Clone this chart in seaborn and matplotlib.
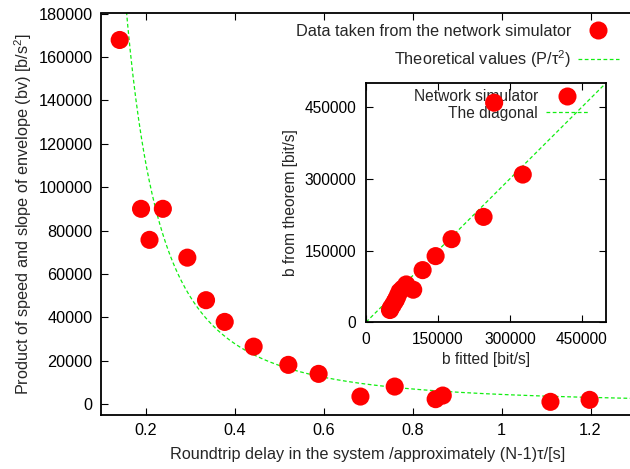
import numpy as np
import pandas as pd
import matplotlib
matplotlib.use("Agg")
import matplotlib.pyplot as plt
from matplotlib.lines import Line2D
import seaborn as sns

# ---- data ----
delay = [0.142, 0.190, 0.239, 0.209, 0.294, 0.336, 0.378, 0.443, 0.521,
         0.589, 0.683, 0.760, 0.852, 0.868, 1.110, 1.198]
bv = [167800, 90000, 90000, 75700, 67500, 47900, 37900, 26500, 18100,
      13950, 3500, 8100, 2300, 3960, 1060, 1980]

P_const = 4470  # theoretical constant P in P/tau^2
tau_range = [0.1, 1.3]

b_fitted = [267300, 327000, 245200, 178500, 145200, 118100, 98500, 84000,
            76000, 70000, 66000, 63000, 60000, 56000, 52000, 50000]
b_theorem = [459400, 309000, 220400, 173800, 138300, 109000, 68000, 79000,
             70000, 64000, 55000, 48000, 43000, 36000, 30000, 25500]
diag = [0, 500000]

x_ticks = [0.2, 0.4, 0.6, 0.8, 1.0, 1.2]
x_ticklabels = ["0.2", "0.4", "0.6", "0.8", "1", "1.2"]
y_ticks = list(range(0, 180001, 20000))
in_ticks = [0, 150000, 300000, 450000]

sns.set_style("ticks")
plt.rcParams["font.family"] = ["Liberation Sans", "DejaVu Sans"]
plt.rcParams["mathtext.fontset"] = "custom"
plt.rcParams["mathtext.rm"] = "Liberation Sans"
plt.rcParams["mathtext.it"] = "Liberation Sans"

RED = "#ff0000"
GREEN = "#11ee11"
FS = 11.7

W, H = 630, 469
fig = plt.figure(figsize=(W / 100, H / 100), dpi=100)

# main axes
L, R, T, B = 101, 101 + 1.2 * 445, 13.5, 415
ax = fig.add_axes([L / W, 1 - B / H, (R - L) / W, (B - T) / H])

tau = np.linspace(tau_range[0], tau_range[1], 400)
theo = pd.DataFrame({"tau": tau, "val": P_const / tau ** 2})
sns.lineplot(data=theo, x="tau", y="val", ax=ax, color=GREEN, lw=0.9,
             dashes=False, linestyle=(0, (3, 2)), zorder=2)
pts = pd.DataFrame({"delay": delay, "bv": bv})
sns.scatterplot(data=pts, x="delay", y="bv", ax=ax, color=RED, s=170,
                edgecolor="none", linewidth=0, zorder=3)
ax.set_xlim(0.1, 1.3)
ax.set_ylim(-5000, 180000)
ax.set_xticks(x_ticks)
ax.set_xticklabels(x_ticklabels)
ax.set_yticks(y_ticks)
ax.set_yticklabels([str(v) for v in y_ticks])
ax.tick_params(direction="in", top=True, right=False, length=5, width=0.8,
               labelsize=FS, pad=6, colors="black")
for s in ax.spines.values():
    s.set_linewidth(1.3)
    s.set_color("black")
ax.set_xlabel("Roundtrip delay in the system /approximately (N-1)\u03c4/[s]",
              fontsize=FS, labelpad=6)
ax.set_ylabel("Product of speed and slope of envelope (bv) [b/s$^2$]",
              fontsize=FS, labelpad=3)

h1 = Line2D([], [], color=RED, marker="o", linestyle="none", markersize=13,
            markeredgewidth=0)
h2 = Line2D([], [], color=GREEN, lw=0.9, linestyle=(0, (3, 2)))
leg = ax.legend([h1, h2], ["Data taken from the network simulator",
                           "Theoretical values (P/\u03c4$^2$)"],
                loc="upper right", bbox_to_anchor=(619 / W, 1 - 24 / H),
                bbox_transform=fig.transFigure, frameon=False,
                markerfirst=False, fontsize=FS, handlelength=2.55,
                handletextpad=0.4, labelspacing=0.55, borderpad=0,
                borderaxespad=0)

# inset axes
iL, iR, iT, iB = 366, 605.7, 83.3, 322.2
ax2 = fig.add_axes([iL / W, 1 - iB / H, (iR - iL) / W, (iB - iT) / H])
ax2.set_facecolor("white")
dg = pd.DataFrame({"x": diag, "y": diag})
sns.lineplot(data=dg, x="x", y="y", ax=ax2, color=GREEN, lw=0.9,
             linestyle=(0, (3, 2)), zorder=2)
ip = pd.DataFrame({"f": b_fitted, "t": b_theorem})
sns.scatterplot(data=ip, x="f", y="t", ax=ax2, color=RED, s=170,
                edgecolor="none", linewidth=0, zorder=4)
ax2.set_xlim(0, 500000)
ax2.set_ylim(0, 500000)
ax2.set_xticks(in_ticks)
ax2.set_xticklabels([str(v) for v in in_ticks])
ax2.set_yticks(in_ticks)
ax2.set_yticklabels([str(v) for v in in_ticks])
ax2.tick_params(direction="in", top=True, right=True, length=5, width=0.8,
                labelsize=FS - 0.5, pad=7, colors="black")
for s in ax2.spines.values():
    s.set_linewidth(1.3)
    s.set_color("black")
ax2.set_xlabel("b fitted [bit/s]", fontsize=FS - 0.5, labelpad=4)
ax2.set_ylabel("b from theorem [bit/s]", fontsize=FS - 0.5, labelpad=5)

h3 = Line2D([], [], color=RED, marker="o", linestyle="none", markersize=13,
            markeredgewidth=0)
h4 = Line2D([], [], color=GREEN, lw=0.9, linestyle=(0, (3, 2)))
leg2 = ax2.legend([h3, h4], ["Network simulator", "The diagonal"],
                  loc="upper right", bbox_to_anchor=(588 / W, 1 - 89 / H),
                  bbox_transform=fig.transFigure, frameon=False,
                  markerfirst=False, fontsize=FS - 0.5, handlelength=2.7,
                  handletextpad=0.5, labelspacing=0.1, borderpad=0,
                  borderaxespad=0)
leg2.set_zorder(3)

fig.savefig("out.png", dpi=100)
